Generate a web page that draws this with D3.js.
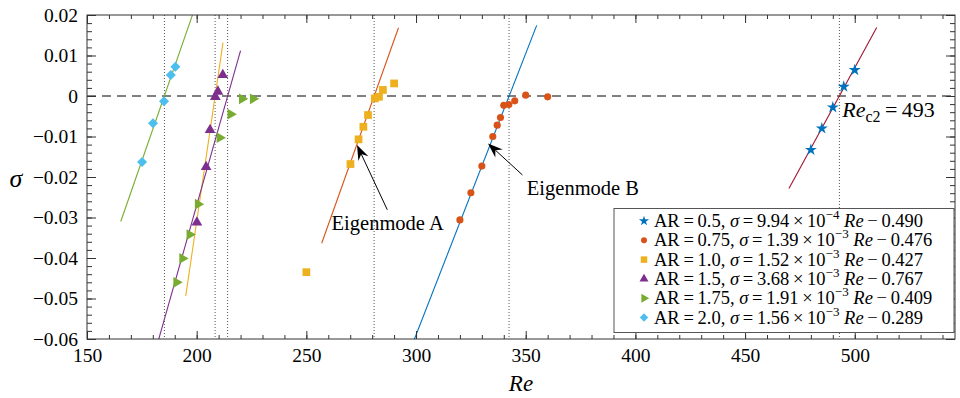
<!DOCTYPE html>
<html>
<head>
<meta charset="utf-8">
<script src="https://cdn.jsdelivr.net/npm/d3@7"></script>
<style>
body { margin: 0; background: #fff; }
</style>
</head>
<body>
<div class="container"></div>
<script>
const WIDTH = 960;
const HEIGHT = 398;
const LEFT = 87, RIGHT = 955, TOP = 15, BOTTOM = 339;
const FONT = "'Liberation Serif', 'Times New Roman', serif";
const THIN = "\u2009";

// fitted lines, one per AR (legend order)
var arLabels = ["0.5", "0.75", "1.0", "1.5", "1.75", "2.0"];
var slopeMant = [9.94, 1.39, 1.52, 3.68, 1.91, 1.56];
var slopeExp = [-4, -3, -3, -3, -3, -3];
var intercepts = [0.490, 0.476, 0.427, 0.767, 0.409, 0.289];
var lineStart = [470, 299, 257, 195, 182.7, 165.4];
var lineEnd = [510, 355, 292, 212, 220, 198.1];
var reCrit = [493, 342.4, 280.9, 208.4, 214.1, 185.3];

// computed points
var re05 = [480, 485, 490, 495, 500];
var sig05 = [-0.0133, -0.0080, -0.0028, 0.0023, 0.0064];
var re075 = [320, 325, 330, 335, 337, 338.5, 340, 342.3, 345, 350, 360];
var sig075 = [-0.0306, -0.0239, -0.0173, -0.0100, -0.0072, -0.0053, -0.0023, -0.0021, -0.0012, 0.0002, -0.0002];
var re10 = [250, 270.1, 273.8, 276, 278.1, 281.2, 283.1, 284.9, 290];
var sig10 = [-0.0435, -0.0168, -0.0107, -0.0076, -0.0047, -0.0006, -0.0002, 0.0015, 0.0031];
var re15 = [200.1, 204.3, 206.1, 208.5, 209.7, 211.9];
var sig15 = [-0.0312, -0.0175, -0.0084, -0.0002, 0.0011, 0.0052];
var re175 = [190.8, 193.5, 196.8, 200.6, 210.5, 215.5, 220.7, 225.7];
var sig175 = [-0.0460, -0.0401, -0.0342, -0.0267, -0.0103, -0.0045, -0.0007, -0.0007];
var re20 = [175.1, 180.1, 185.1, 188.2, 190.3];
var sig20 = [-0.0163, -0.0067, -0.0013, 0.0052, 0.0072];

var xTicks = [150, 200, 250, 300, 350, 400, 450, 500];
var yTicks = [0.02, 0.01, 0, -0.01, -0.02, -0.03, -0.04, -0.05, -0.06];

var markerColors = ["#0072BD", "#D95319", "#EDB120", "#7E2F8E", "#77AC30", "#4DBEEE"];
var lineColors = ["#A2142F", "#0072BD", "#D95319", "#EDB120", "#7E2F8E", "#77AC30"];

var series = [
    {re: re05, sig: sig05, sym: d3.symbolStar, size: 45, rot: 0},
    {re: re075, sig: sig075, sym: d3.symbolCircle, size: 40, rot: 0},
    {re: re10, sig: sig10, sym: d3.symbolSquare, size: 60, rot: 0},
    {re: re15, sig: sig15, sym: d3.symbolTriangle, size: 50, rot: 0},
    {re: re175, sig: sig175, sym: d3.symbolTriangle, size: 50, rot: 90},
    {re: re20, sig: sig20, sym: d3.symbolSquare, size: 50, rot: 45}
];

var x = d3.scaleLinear().domain([150, 545.7]).range([LEFT, RIGHT]);
var y = d3.scaleLinear().domain([-0.06, 0.02]).range([BOTTOM, TOP]);

var translate = function (a, b) {
    return "translate(" + a + "," + b + ")";
};

var svg = d3.select(".container").append("svg")
    .attr("width", WIDTH)
    .attr("height", HEIGHT)
    .attr("font-family", "Liberation Serif");

function label(sel, size) {
    return sel.style("font-family", FONT).style("font-size", size + "px")
        .attr("fill", "#000").style("white-space", "pre");
}

svg.append("clipPath").attr("id", "plot")
    .append("rect").attr("x", LEFT).attr("y", TOP)
    .attr("width", RIGHT - LEFT).attr("height", BOTTOM - TOP);

var plot = svg.append("g").attr("clip-path", "url(#plot)");

// critical Re markers
plot.selectAll(".crit").data(reCrit).enter().append("line")
    .attr("x1", d => x(d)).attr("x2", d => x(d))
    .attr("y1", TOP).attr("y2", BOTTOM)
    .attr("stroke", "#555").attr("stroke-dasharray", "1,2");

plot.append("line")
    .attr("x1", LEFT).attr("x2", RIGHT)
    .attr("y1", y(0)).attr("y2", y(0))
    .attr("stroke", "#000").attr("stroke-dasharray", "9,6");

// fit lines
arLabels.forEach(function (ar, i) {
    var k = slopeMant[i] * Math.pow(10, slopeExp[i]);
    plot.append("line")
        .attr("x1", x(lineStart[i])).attr("y1", y(k * lineStart[i] - intercepts[i]))
        .attr("x2", x(lineEnd[i])).attr("y2", y(k * lineEnd[i] - intercepts[i]))
        .attr("stroke", lineColors[i]).attr("stroke-width", 1.1);
});

series.forEach(function (s, i) {
    var pts = s.re.map((r, j) => [r, s.sig[j]]);
    plot.selectAll(".m" + i).data(pts).enter().append("path")
        .attr("d", d3.symbol().type(s.sym).size(s.size))
        .attr("transform", d => translate(x(d[0]), y(d[1])) + " rotate(" + s.rot + ")")
        .attr("fill", markerColors[i]);
});

// annotations
function arrow(r0, s0, r1, s1) {
    var x0 = x(r0), y0 = y(s0), x1 = x(r1), y1 = y(s1);
    var dx = x1 - x0, dy = y1 - y0, L = Math.sqrt(dx * dx + dy * dy);
    var ux = dx / L, uy = dy / L, px = -uy, py = ux;
    var hl = 15, hw = 5.5, notch = 10;
    svg.append("line")
        .attr("x1", x0).attr("y1", y0)
        .attr("x2", x1 - ux * notch).attr("y2", y1 - uy * notch)
        .attr("stroke", "#000").attr("stroke-width", 1);
    var p = [[x1, y1],
        [x1 - ux * hl + px * hw, y1 - uy * hl + py * hw],
        [x1 - ux * notch, y1 - uy * notch],
        [x1 - ux * hl - px * hw, y1 - uy * hl - py * hw]];
    svg.append("path").attr("d", "M" + p.join("L") + "Z").attr("fill", "#000");
}
arrow(286.9, -0.0281, 273.1, -0.0121);
arrow(348.5, -0.0195, 332.8, -0.0117);

label(svg.append("text").attr("x", x(261.5)).attr("y", y(-0.0330)), 20.5).text("Eigenmode A");
label(svg.append("text").attr("x", x(350.5)).attr("y", y(-0.0244)), 20.5).text("Eigenmode B");

var rc = label(svg.append("text").attr("x", x(494.3)).attr("y", y(-0.0052)), 22);
rc.append("tspan").style("font-style", "italic").text("Re");
rc.append("tspan").attr("dy", 5).style("font-size", "16px").text("c2");
rc.append("tspan").attr("dy", -5).text(THIN + "=" + THIN + "493");

// axes
function axisStyle(g) {
    g.select(".domain").remove();
    g.selectAll("line").attr("stroke", "#333");
    label(g.selectAll("text"), 19.5);
}
var xMinor = d3.range(150, 546, 10);
var yMinor = d3.range(-30, 11).map(d => d * 0.002);
var fmtY = d => d === 0 ? "0" : d3.format(".2f")(d);

svg.append("g").attr("transform", translate(0, BOTTOM))
    .call(d3.axisBottom(x).tickValues(xMinor).tickFormat("").tickSize(-4)).call(axisStyle);
svg.append("g").attr("transform", translate(0, BOTTOM))
    .call(d3.axisBottom(x).tickValues(xTicks).tickFormat(d3.format("d")).tickSize(-8).tickPadding(9)).call(axisStyle);
svg.append("g").attr("transform", translate(0, TOP))
    .call(d3.axisTop(x).tickValues(xMinor).tickFormat("").tickSize(-4)).call(axisStyle);
svg.append("g").attr("transform", translate(0, TOP))
    .call(d3.axisTop(x).tickValues(xTicks).tickFormat("").tickSize(-8)).call(axisStyle);

svg.append("g").attr("transform", translate(LEFT, 0))
    .call(d3.axisLeft(y).tickValues(yMinor).tickFormat("").tickSize(-5)).call(axisStyle);
svg.append("g").attr("transform", translate(LEFT, 0))
    .call(d3.axisLeft(y).tickValues(yTicks).tickFormat(fmtY).tickSize(-9).tickPadding(9)).call(axisStyle);
svg.append("g").attr("transform", translate(RIGHT, 0))
    .call(d3.axisRight(y).tickValues(yMinor).tickFormat("").tickSize(-5)).call(axisStyle);
svg.append("g").attr("transform", translate(RIGHT, 0))
    .call(d3.axisRight(y).tickValues(yTicks).tickFormat("").tickSize(-9)).call(axisStyle);

svg.append("rect").attr("x", LEFT).attr("y", TOP)
    .attr("width", RIGHT - LEFT).attr("height", BOTTOM - TOP)
    .attr("fill", "none").attr("stroke", "#333").attr("stroke-width", 1);

label(svg.append("text").attr("x", (LEFT + RIGHT) / 2).attr("y", 391), 23)
    .attr("text-anchor", "middle").style("font-style", "italic").text("Re");
label(svg.append("text").attr("x", 16).attr("y", 187), 26)
    .attr("text-anchor", "middle").style("font-style", "italic").text("σ");

// legend
var lg = svg.append("g");
lg.append("rect").attr("x", 614).attr("y", 208.5).attr("width", 340).attr("height", 124)
    .attr("fill", "#fff").attr("stroke", "#555").attr("stroke-width", 1);
arLabels.forEach(function (ar, i) {
    var cy = 221 + i * 19.3;
    var s = series[i];
    lg.append("path")
        .attr("d", d3.symbol().type(s.sym).size(s.size * 0.7))
        .attr("transform", translate(644, cy) + " rotate(" + s.rot + ")")
        .attr("fill", markerColors[i]);
    var t = label(lg.append("text").attr("x", 654).attr("y", cy + 6), 18.5);
    t.append("tspan").text("AR" + THIN + "=" + THIN + ar + ", ");
    t.append("tspan").style("font-style", "italic").text("σ");
    t.append("tspan").text(THIN + "=" + THIN + slopeMant[i].toFixed(2) + THIN + "×" + THIN + "10");
    t.append("tspan").attr("dy", -8).style("font-size", "13px").text("−" + Math.abs(slopeExp[i]));
    t.append("tspan").attr("dy", 8).text(" ");
    t.append("tspan").style("font-style", "italic").text("Re");
    t.append("tspan").text(THIN + "−" + THIN + intercepts[i].toFixed(3));
});
</script>
</body>
</html>
